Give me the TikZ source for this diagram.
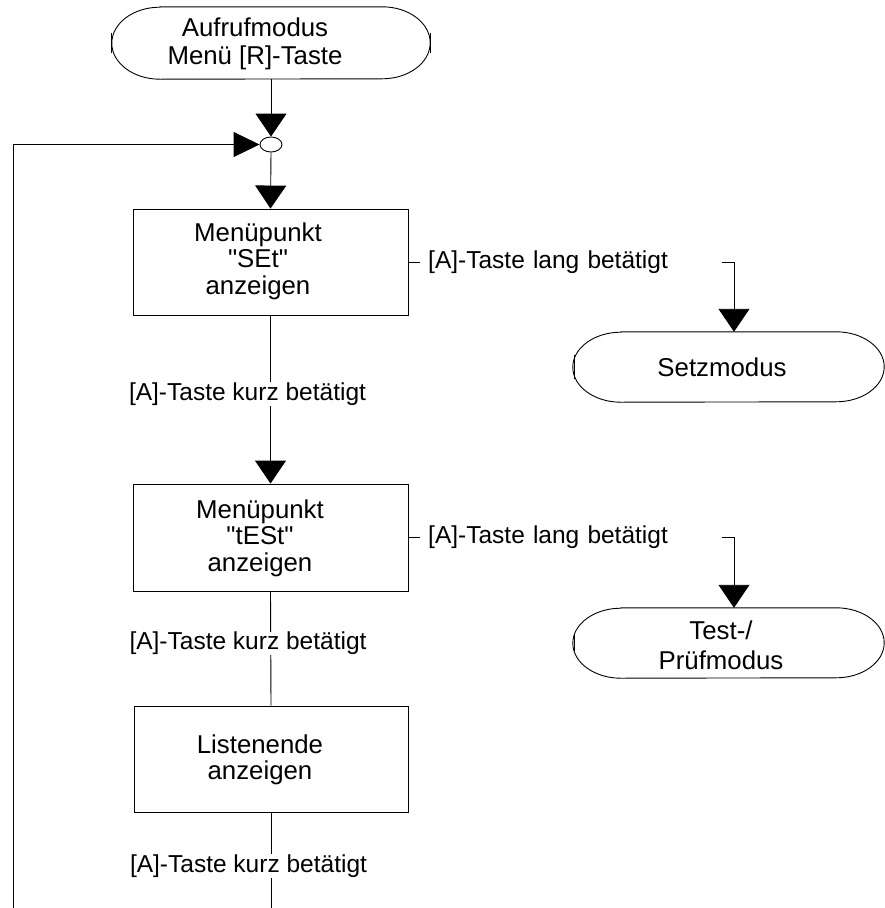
\documentclass[tikz,border=0pt]{standalone}
\usepackage{fontspec}
\setmainfont{Liberation Sans}[Ligatures=TeXOff]
\usetikzlibrary{arrows.meta,shapes.geometric}
\newcommand\drawterm[2]{%
  \draw[outline] ([xshift=48pt]#1.north west) -- ([xshift=-48pt]#1.north east)
    arc[start angle=90,end angle=-90,x radius=48pt,y radius=#2]
    -- ([xshift=48pt]#1.south west)
    arc[start angle=270,end angle=90,x radius=48pt,y radius=#2] -- cycle;}
\newcommand\dq{\char34\relax}
\begin{document}
\begin{tikzpicture}[x=1pt,y=-1pt,
  outline/.style={line width=0.9pt},
  conn/.style={line width=0.9pt},
  arr/.style={conn,-{Triangle[length=23pt,width=31pt]}},
  harr/.style={conn,-{Triangle[length=26pt,width=25pt]}},
  box/.style={draw,outline,minimum width=275pt,minimum height=106pt,inner sep=0pt},
  term/.style={minimum width=#1,inner sep=0pt},
  txt/.style={align=center,font=\fontsize{25.8}{26.5}\selectfont,inner sep=0pt},
  ttxt/.style={align=center,font=\fontsize{25.8}{27.5}\selectfont,inner sep=0pt},
  lbl/.style={fill=white,font=\fontsize{24.5}{27}\selectfont,inner xsep=2pt,inner ysep=0.5pt},
  langlbl/.style={fill=white,font=\fontsize{24.5}{27}\selectfont,inner xsep=8pt,inner ysep=0.5pt,text width=286pt,align=left,anchor=west},
  junction/.style={draw,outline,ellipse,minimum width=22pt,minimum height=15pt,inner sep=0pt}]
\useasboundingbox (0,0) rectangle (884,908);
\fill[white] (0,0) rectangle (884,908);

% shapes
\node[term=318pt,minimum height=72pt] (t0) at (271,43) {};
\node[junction] (circ) at (271,144.5) {};
\node[box] (b1) at (270.5,262) {};
\node[box,minimum height=107pt] (b2) at (270.5,537.5) {};
\node[box,minimum width=274pt] (b3) at (271,759) {};
\node[term=311pt,minimum height=70pt] (setz) at (728.5,367) {};
\node[term=311pt,minimum height=70pt] (test) at (728.5,643) {};

\drawterm{t0}{36pt}
\drawterm{setz}{35pt}
\drawterm{test}{35pt}
\draw[outline] (t0.west) ++(0,-10) -- ++(0,20);
\draw[outline] (t0.east) ++(0,-10) -- ++(0,20);
\draw[outline] ([xshift=2pt]setz.west) ++(0,-12) -- ++(0,24);
\draw[outline] ([xshift=2pt]test.west) ++(0,-8) -- ++(0,16);

% texts
\node[ttxt] (t0t) at (255,44) {Aufrufmodus\\Menü [R]-Taste};
\node[txt] (b1t) at (258,261) {Menüpunkt\\ \dq SEt\dq\\anzeigen};
\node[txt] (b2t) at (260,538) {Menüpunkt\\ \dq tESt\dq\\anzeigen};
\node[txt] (b3t) at (260,760) {Listenende\\anzeigen};
\node[txt] (setzt) at (722,367) {Setzmodus};
\node[txt,font=\fontsize{25.8}{30}\selectfont] (testt) at (721,645) {Test-/\\Prüfmodus};

% coordinates
\coordinate (c1) at (734,262);
\coordinate (c2) at (734,537.5);
\coordinate (bend) at (271,920);
\coordinate (lbot) at (13,920);

% connectors
\draw[arr] (t0.south) -- (circ.north);
\draw[arr] (circ.south) -- (b1.north);
\draw[arr] (b1.south) -- (b2.north);
\draw[conn] (b2.south) -- (b3.north);
\draw[conn] (b3.south) -- (bend);
\draw[harr] (lbot) -- (lbot |- circ.west) -- (circ.west);
\draw[arr] (b1.east) -- (c1) -- (c1 |- setz.north);
\draw[arr] (b2.east) -- (c2) -- (c2 |- test.north);

% labels
\node[lbl] (k1) at (247.5,394) {[A]-Taste kurz betätigt};
\node[lbl] (k2) at (248,643.5) {[A]-Taste kurz betätigt};
\node[lbl] (k3) at (248.5,866) {[A]-Taste kurz betätigt};
\node[langlbl] (l1) at (420,262) {[A]-Taste lang betätigt};
\node[langlbl] (l2) at (420,537.5) {[A]-Taste lang betätigt};
\end{tikzpicture}
\end{document}
